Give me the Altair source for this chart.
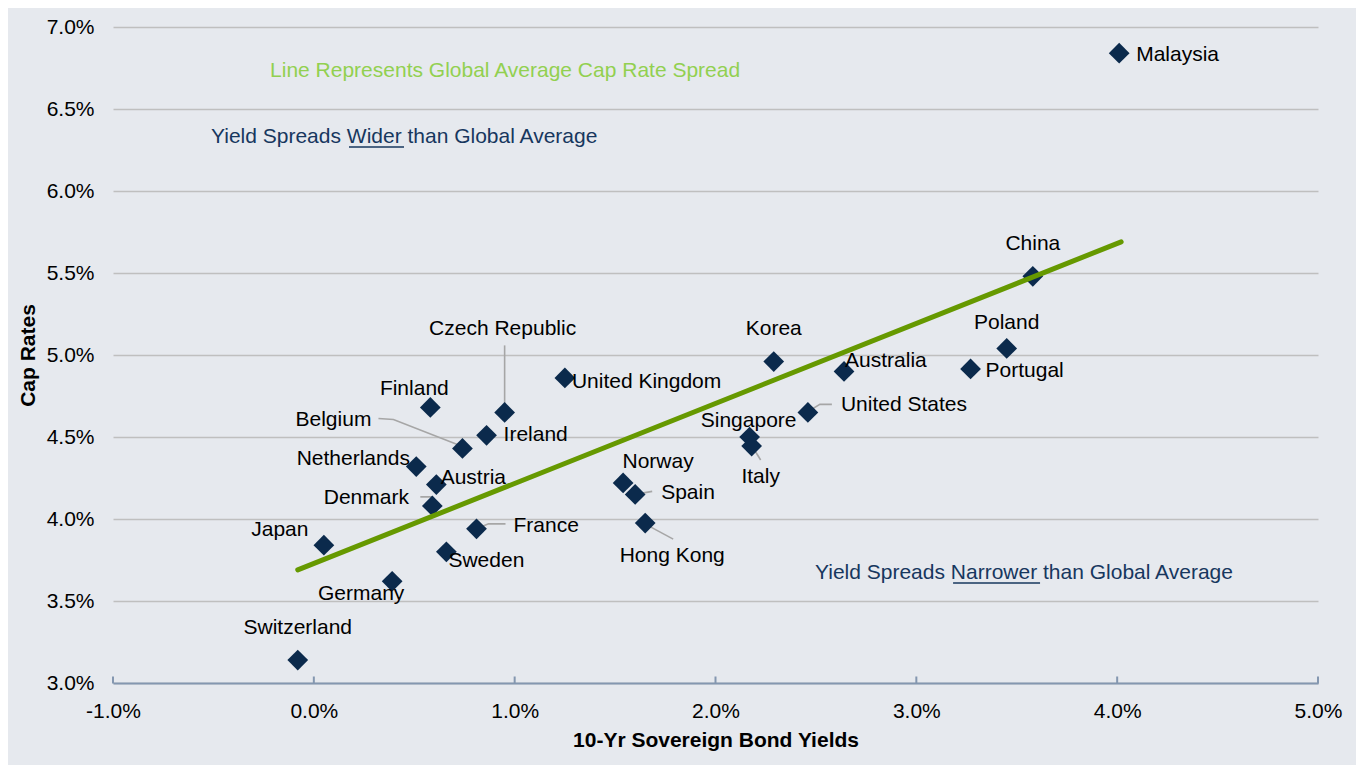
import altair as alt
import pandas as pd

# ---------------- data ----------------
countries = ["Malaysia", "China", "Poland", "Portugal", "Korea", "Australia",
             "United States", "Singapore", "Italy", "Norway", "Spain", "Hong Kong",
             "United Kingdom", "Czech Republic", "Ireland", "Finland", "Belgium",
             "Netherlands", "Austria", "Denmark", "France", "Sweden", "Japan",
             "Germany", "Switzerland"]
bond_yields = [4.01, 3.58, 3.45, 3.27, 2.29, 2.64, 2.46, 2.17, 2.18, 1.54, 1.60, 1.65,
               1.25, 0.95, 0.86, 0.58, 0.74, 0.51, 0.61, 0.59, 0.81, 0.66, 0.05,
               0.39, -0.08]
cap_rates = [6.84, 5.48, 5.04, 4.915, 4.96, 4.90, 4.65, 4.50, 4.445, 4.22, 4.15, 3.975,
             4.86, 4.65, 4.51, 4.68, 4.43, 4.32, 4.21, 4.08, 3.94, 3.80, 3.84,
             3.62, 3.14]

trend_x = [-0.08, 4.02]
trend_y = [3.69, 5.69]

x_ticks = [-1.0, 0.0, 1.0, 2.0, 3.0, 4.0, 5.0]
y_ticks = [3.0, 3.5, 4.0, 4.5, 5.0, 5.5, 6.0, 6.5, 7.0]

note_texts = ["Line Represents Global Average Cap Rate Spread",
              "Yield Spreads Wider than Global Average",
              "Yield Spreads Narrower than Global Average"]
note_x = [-0.218, -0.512, 2.4955]
note_y = [6.732, 6.329, 3.671]
note_kind = ["green", "navy", "navy"]

underline_x = [0.175, 3.183]
underline_x2 = [0.449, 3.616]
underline_y = [6.268, 3.610]

# ---------------- styling / layout ----------------
W, H = 1205, 656
X_DOM, Y_DOM = [-1, 5], [3, 7]
PX_X = (X_DOM[1] - X_DOM[0]) / W
PX_Y = (Y_DOM[1] - Y_DOM[0]) / H
FONT = "Liberation Sans, Arial, Helvetica, sans-serif"
FS = 21
NAVY = "#0B2A4C"
NOTE_NAVY = "#17375E"
GREEN_LINE = "#669900"
GREEN_TEXT = "#92D050"
BG = "#E6E9EE"
AXIS_COL = "#8497B0"
LEADER_COL = "#A6A6A6"
PCT_EXPR = "(datum.value < 0 ? '-' : '') + format(abs(datum.value), '.1f') + '%'"

# label offsets in pixels (align, dx, dy)
label_style = {
    "Malaysia": ("left", 17, 2), "China": ("center", 0, -32),
    "Poland": ("center", 0, -25), "Portugal": ("left", 15, 2),
    "Korea": ("center", 0, -33), "Australia": ("left", 1, -10),
    "United States": ("left", 33, -7), "Singapore": ("center", -1, -16),
    "Italy": ("center", 9, 31), "Norway": ("center", 35, -21),
    "Spain": ("left", 26, -1), "Hong Kong": ("center", 27, 33),
    "United Kingdom": ("left", 7, 4), "Czech Republic": ("center", -2, -83),
    "Ireland": ("left", 17, 0), "Finland": ("center", -16, -18),
    "Belgium": ("center", -129, -28), "Netherlands": ("center", -63, -8),
    "Austria": ("center", 37, -7), "Denmark": ("center", -66, -8),
    "France": ("left", 37, -3), "Sweden": ("center", 40, 9),
    "Japan": ("center", -44, -15), "Germany": ("center", -31, 13),
    "Switzerland": ("center", 0, -32),
}
leader_style = {
    "Czech Republic": [(0, -67), (0, -5)],
    "Belgium": [(-84, -30), (-69, -29), (0, -2)],
    "Denmark": [(-12, -9), (0, -9), (0, -1)],
    "France": [(29, -5), (12, -5), (0, 0)],
    "Spain": [(17, -3), (0, 0)],
    "Hong Kong": [(2, 2), (28, 16)],
    "Italy": [(1, 1), (9, 14)],
    "United States": [(24, -8), (12, -8), (2, -2)],
}

pts = pd.DataFrame({"country": countries, "bond": bond_yields, "cap": cap_rates})

lab_rows = []
for c, bx, cy in zip(countries, bond_yields, cap_rates):
    al, dx, dy = label_style[c]
    lab_rows.append({"country": c, "align": al,
                     "lx": bx + dx * PX_X, "ly": cy - dy * PX_Y})
labels = pd.DataFrame(lab_rows)

lead_rows = []
for c, segs in leader_style.items():
    i = countries.index(c)
    for k, (dx, dy) in enumerate(segs):
        lead_rows.append({"country": c, "seq": k,
                          "lx": bond_yields[i] + dx * PX_X,
                          "ly": cap_rates[i] - dy * PX_Y})
leaders = pd.DataFrame(lead_rows)

trend = pd.DataFrame({"bond": trend_x, "cap": trend_y})
notes = pd.DataFrame({"text": note_texts, "x": note_x, "y": note_y, "kind": note_kind})
unders = pd.DataFrame({"x": underline_x, "x2": underline_x2, "y": underline_y})
ticks = pd.DataFrame({"t": x_ticks, "y": [Y_DOM[0]] * len(x_ticks)})

xscale = alt.Scale(domain=X_DOM, nice=False, zero=False)
yscale = alt.Scale(domain=Y_DOM, nice=False, zero=False)

x_axis = alt.Axis(values=x_ticks, labelExpr=PCT_EXPR, labelFlush=False,
                  labelOverlap=False,
                  grid=False, ticks=False, domainColor=AXIS_COL, domainWidth=2,
                  labelPadding=17, labelFontSize=FS, labelFont=FONT, labelColor="#000000",
                  title="10-Yr Sovereign Bond Yields", titleFont=FONT, titleFontSize=FS,
                  titleFontWeight="bold", titleColor="#000000", titleY=57,
                  titleBaseline="middle", zindex=1)
y_axis = alt.Axis(values=y_ticks, labelExpr=PCT_EXPR, labelFlush=False,
                  labelOverlap=False,
                  grid=True, gridColor="#BFBFBF", gridWidth=1.6, domain=False,
                  ticks=False, labelPadding=19, labelFontSize=FS, labelFont=FONT,
                  labelColor="#000000", title="Cap Rates", titleFont=FONT,
                  titleFontSize=FS, titleFontWeight="bold", titleColor="#000000",
                  titleAngle=-90, titleX=-85, titleY=H / 2, titleAlign="center",
                  titleBaseline="middle")

base_pts = alt.Chart(pts).mark_point(
    shape="diamond", size=430, filled=True, color=NAVY, opacity=1
).encode(
    x=alt.X("bond:Q", scale=xscale, axis=x_axis),
    y=alt.Y("cap:Q", scale=yscale, axis=y_axis),
)

lead_layer = alt.Chart(leaders).mark_line(color=LEADER_COL, strokeWidth=1.6).encode(
    x=alt.X("lx:Q", scale=xscale), y=alt.Y("ly:Q", scale=yscale),
    detail="country:N", order="seq:Q",
)

trend_layer = alt.Chart(trend).mark_line(color=GREEN_LINE, strokeWidth=5, strokeCap="round").encode(
    x=alt.X("bond:Q", scale=xscale), y=alt.Y("cap:Q", scale=yscale),
)

tick_layer = alt.Chart(ticks).mark_tick(
    orient="vertical", size=7, thickness=2, color=AXIS_COL, yOffset=-3, opacity=1
).encode(x=alt.X("t:Q", scale=xscale), y=alt.Y("y:Q", scale=yscale))

def label_layer(al):
    return alt.Chart(labels).transform_filter(
        alt.datum.align == al
    ).mark_text(align=al, baseline="middle", font=FONT, fontSize=FS, color="#000000").encode(
        x=alt.X("lx:Q", scale=xscale), y=alt.Y("ly:Q", scale=yscale), text="country:N"
    )

note_layer = alt.Chart(notes).mark_text(
    align="left", baseline="middle", font=FONT, fontSize=FS
).encode(
    x=alt.X("x:Q", scale=xscale), y=alt.Y("y:Q", scale=yscale), text="text:N",
    color=alt.Color("kind:N", scale=alt.Scale(domain=["green", "navy"],
                                              range=[GREEN_TEXT, NOTE_NAVY]), legend=None),
)

under_layer = alt.Chart(unders).mark_rule(color=NOTE_NAVY, strokeWidth=1.6).encode(
    x=alt.X("x:Q", scale=xscale), x2="x2:Q", y=alt.Y("y:Q", scale=yscale),
)

chart = alt.layer(
    lead_layer, base_pts, trend_layer, tick_layer,
    label_layer("left"), label_layer("center"), note_layer, under_layer,
).properties(
    width=W, height=H,
    autosize=alt.AutoSizeParams(type="none"),
    padding={"left": 105, "top": 19, "right": 38, "bottom": 82},
    background=BG,
).configure_view(stroke=None)

chart.save("out.html", embed_options={"renderer": "svg", "actions": False})
